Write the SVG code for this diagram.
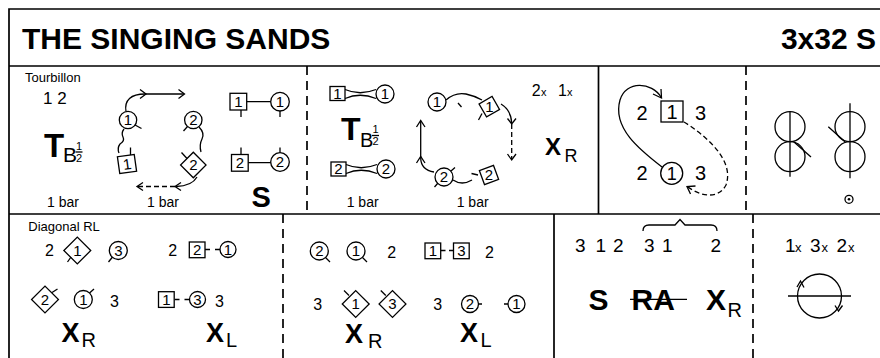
<svg xmlns="http://www.w3.org/2000/svg" width="880" height="358" viewBox="0 0 880 358">
<style>
text{font-family:"Liberation Sans",Arial,sans-serif;fill:#000}
.b{font-weight:bold}
.ln{stroke:#000;stroke-width:1.3;fill:none}
.dl{stroke:#000;stroke-width:1.3;fill:none;stroke-dasharray:5,3}
.sh{fill:#fff;stroke:#000;stroke-width:1.3}
.fr{stroke:#000;stroke-width:1.7;fill:none}
.fd{stroke:#000;stroke-width:1.7;fill:none;stroke-dasharray:9,6}
.n{font-size:15px;text-anchor:middle}
.d{font-size:16px}
.lb{font-size:13px}
</style>
<rect width="880" height="358" fill="#fff"/>
<g id="frame">
<path class="fr" d="M9,360 V9 H882 M9,66 H882 M9,214 H882"/>
<path class="fd" d="M307,66 V214 M746,66 V214 M283,214 V360 M753,214 V360"/>
<path class="fr" d="M598.5,66 V214 M554,214 V360"/>
</g>
<g id="title">
<text x="22" y="49" class="b" font-size="30">THE SINGING SANDS</text>
<text x="876" y="49" class="b" font-size="30" text-anchor="end">3x32 S</text>
</g>
<g id="connectors">
<path class="ln" d="M126,111.5 C124,100 131,94 145,94 L184,94"/>
<path class="ln" d="M140,89.5 L146,94 L140,98.5 M178.5,89.5 L184.5,94 L178.5,98.5"/>
<path class="ln" d="M124,129 Q121,133 123,137 Q125,141 120,144 Q117,148 119,153"/>
<path class="ln" d="M199,127 Q205,133 202,139 Q199,145 201,152"/>
<path class="ln" d="M197,177 Q192,186 176,186.5"/>
<path class="ln" d="M181,182.5 L175,186.5 L181,190.5"/>
<path class="dl" d="M175,186.5 H138"/>
<path class="ln" d="M143,182.5 L137,186.5 L143,190.5"/>
<path class="ln" d="M247,101.7 H271 M241,110 V117 M280,111 V117 M248,162.7 H271 M241,147.5 V154.5 M280,147.5 V152.5"/>
<path class="ln" d="M345,89.5 Q360,96 376,89.5 M345,98.5 Q360,92 376,98.5"/>
<path class="ln" d="M346,164.5 Q361,171 377,164.5 M346,173.5 Q361,167 377,173.5"/>
<path class="ln" d="M446,100 Q455,92 466,94 Q475,96 482,100"/>
<path class="ln" d="M453,180 Q462,186 472,180"/>
<path class="ln" d="M434,172 Q421,170 420.7,158 L420.7,121"/>
<path class="ln" d="M416.5,127 L420.7,120.5 L425,127 M416.5,163 L420.7,156.5 L425,163"/>
<path class="ln" d="M501,104 Q511,110 511.7,123"/>
<path class="ln" d="M507.5,118.5 L511.7,124 L516,118.5"/>
<path class="dl" d="M511.7,124 V159"/>
<path class="ln" d="M507.5,154 L511.7,160 L516,154"/>
<path class="ln" d="M662,167 C640,150 612,128 620,100 C626,80 652,82 661,97"/>
<path class="ln" d="M653,94 L661.5,98 L661,89"/>
<path class="dl" d="M684,122 C705,135 735,160 726,185 C718,200 700,196 688,187"/>
<path class="ln" d="M690.5,194 L687,186.5 L695.5,186"/>
<path class="ln" d="M643,231 Q643,225 649,225 L675,225 L680,219.5 L685,225 L711,225 Q717,225 717,231"/>
<path class="ln" stroke-width="1.6" d="M630,299.3 H687"/>
<path class="ln" d="M788,296 H851"/>
<path class="ln" d="M797,287 L800.5,281 L804,287.5 M835,305.5 L838.5,311 L842.5,305.5"/>
<path class="ln" d="M205,249.5 H210 M215,249.5 H220 M174.5,299.5 H179.5 M184.5,299.5 H189.5 M440.7,250.5 H445.5 M449,250.5 H453.5 M477.5,304 H482 M504,304 H508.5"/>
</g>
<g id="n_tourbillon">
<text x="25" y="81.5" class="lb">Tourbillon</text>
<text x="43" y="103.5" font-size="17">1 2</text>
<text x="44" y="156.7" class="b" font-size="33">T</text>
<text x="63" y="161.7" font-size="21">B</text>
<text x="79" y="149.5" font-size="11" text-anchor="middle">1</text>
<path class="ln" stroke-width="1" d="M75.5,152 H82.5"/>
<text x="79" y="161.5" font-size="11" text-anchor="middle">2</text>
<text x="47" y="206.7" font-size="14">1 bar</text>
<text x="147" y="206.7" font-size="14">1 bar</text>
<circle class="sh" cx="128" cy="120" r="8.7"/><text class="n" x="128" y="125.3">1</text>
<path class="ln" d="M135,125 L141.5,128.5"/>
<g transform="rotate(-8 127 164)"><rect class="sh" x="118.5" y="155.5" width="17" height="17"/><text class="n" x="127" y="169.5">1</text></g>
<path class="ln" d="M130.5,147.5 V155"/>
<circle class="sh" cx="193.3" cy="120" r="8.7"/><text class="n" x="193.3" y="125.3">2</text>
<path class="ln" d="M187.5,126.5 L183.5,131"/>
<g transform="rotate(45 193.3 165)"><rect class="sh" x="184.3" y="156" width="18" height="18"/></g><text class="n" x="193.3" y="170.3">2</text>
<path class="ln" d="M187,158.5 L181.5,152.5"/>
</g>
<g id="n_set">
<rect class="sh" x="230" y="93.3" width="16.7" height="16.7"/><text class="n" x="238.3" y="107">1</text>
<circle class="sh" cx="280" cy="101.7" r="9.3"/><text class="n" x="280" y="107">1</text>
<rect class="sh" x="231.5" y="154.5" width="16.7" height="16.7"/><text class="n" x="239.8" y="168.2">2</text>
<circle class="sh" cx="280" cy="162" r="9.3"/><text class="n" x="280" y="167.3">2</text>
<text x="251.5" y="206.7" class="b" font-size="29">S</text>
</g>
<g id="n_turn">
<rect class="sh" x="330" y="86.5" width="15" height="14"/><text class="n" x="337.5" y="98.8">1</text>
<circle class="sh" cx="385" cy="94" r="9"/><text class="n" x="385" y="99.3">1</text>
<rect class="sh" x="331" y="162" width="15" height="14"/><text class="n" x="338.5" y="174.3">2</text>
<circle class="sh" cx="386" cy="169" r="9"/><text class="n" x="386" y="174.3">2</text>
<text x="341" y="140" class="b" font-size="32">T</text>
<text x="360" y="146.7" font-size="20">B</text>
<text x="375.5" y="133" font-size="11" text-anchor="middle">1</text>
<path class="ln" stroke-width="1" d="M372,135.5 H379"/>
<text x="375.5" y="145" font-size="11" text-anchor="middle">2</text>
<text x="346.7" y="206.7" font-size="14">1 bar</text>
<text x="456.7" y="206.7" font-size="14">1 bar</text>
<circle class="sh" cx="437" cy="102" r="9"/><text class="n" x="437" y="107.3">1</text>
<path class="ln" d="M458,103 L461.5,107"/>
<g transform="rotate(-30 489.3 106.7)"><rect class="sh" x="481.8" y="99.2" width="15" height="15"/></g><text class="n" x="489.3" y="112">1</text>
<path class="ln" d="M482,113.5 L478.5,120"/>
<circle class="sh" cx="444" cy="177" r="9"/><text class="n" x="444" y="182.3">2</text>
<path class="ln" d="M451,171 L455,167.5 M438,183 L434.5,187"/>
<g transform="rotate(-20 489 175)"><rect class="sh" x="481.5" y="167.5" width="15" height="15"/></g><text class="n" x="489" y="180.3">2</text>
<path class="ln" d="M471.5,173.5 L478,175"/>
<text x="531.7" y="96" font-size="16">2</text><text x="541" y="96" font-size="11">x</text>
<text x="558" y="96" font-size="16">1</text><text x="567" y="96" font-size="11">x</text>
<text x="545" y="155" class="b" font-size="24">X</text>
<text x="564.5" y="161.7" font-size="18">R</text>
</g>
<g id="n_cast">
<text x="636.5" y="120" font-size="20">2</text>
<rect class="sh" x="661" y="101" width="22" height="21"/><text x="672" y="119" font-size="20" text-anchor="middle">1</text>
<text x="695" y="120" font-size="20">3</text>
<text x="636.5" y="180" font-size="20">2</text>
<circle class="sh" cx="671.7" cy="173.3" r="11"/><text x="671.7" y="180" font-size="18" text-anchor="middle">1</text>
<text x="695" y="180" font-size="20">3</text>
</g>
<g id="n_reels">
<circle class="ln" cx="790" cy="126.7" r="15"/><circle class="ln" cx="790" cy="156.7" r="15"/>
<path class="ln" d="M790,111.7 V176.7 M794,142 L811,157"/>
<circle class="ln" cx="850" cy="126.7" r="15"/><circle class="ln" cx="850" cy="156.7" r="15"/>
<path class="ln" d="M850,103.3 V178.3 M828.3,126.7 L845,141.7"/>
<circle class="ln" cx="849" cy="199.3" r="4"/><circle cx="849" cy="199.3" r="1.3"/>
</g>
<g id="n_diag1">
<text x="28.3" y="230.7" class="lb">Diagonal RL</text>
<text x="45" y="256" class="d">2</text>
<g transform="rotate(45 77.3 250.5)"><rect class="sh" x="67.8" y="241" width="19" height="19"/></g><text class="n" x="77.3" y="255.8">1</text>
<path class="ln" d="M71,257 L67.5,262"/>
<circle class="sh" cx="118.3" cy="250.5" r="9"/><text class="n" x="118.3" y="255.8">3</text>
<path class="ln" d="M112.5,257 L108.5,262"/>
<g transform="rotate(45 45 299.5)"><rect class="sh" x="35.5" y="290" width="19" height="19"/></g><text class="n" x="45" y="304.8">2</text>
<path class="ln" d="M52,292.5 L57.5,289"/>
<circle class="sh" cx="83.3" cy="299.5" r="9"/><text class="n" x="83.3" y="304.8">1</text>
<path class="ln" d="M89.5,293 L94,289"/>
<text x="110" y="306.5" class="d">3</text>
<text x="61.5" y="341.7" class="b" font-size="27">X</text>
<text x="81.5" y="346.7" font-size="20">R</text>
</g>
<g id="n_diag2">
<text x="168.3" y="256" class="d">2</text>
<rect class="sh" x="189.3" y="242" width="15.7" height="15.7"/><text class="n" x="197.2" y="255.3">2</text>
<circle class="sh" cx="228" cy="249.5" r="8"/><text class="n" x="228" y="254.8">1</text>
<rect class="sh" x="158.5" y="291.7" width="15.7" height="15.7"/><text class="n" x="166.3" y="305">1</text>
<circle class="sh" cx="197.5" cy="299.5" r="8"/><text class="n" x="197.5" y="304.8">3</text>
<text x="215" y="306.5" class="d">3</text>
<text x="206" y="341.7" class="b" font-size="27">X</text>
<text x="226" y="346.7" font-size="20">L</text>
</g>
<g id="n_diag3">
<circle class="sh" cx="319.3" cy="251" r="9"/><text class="n" x="319.3" y="256.3">2</text>
<path class="ln" d="M325.5,257.5 L330,262"/>
<circle class="sh" cx="356" cy="251" r="9"/><text class="n" x="356" y="256.3">1</text>
<path class="ln" d="M362.5,257.5 L367,262"/>
<text x="387.3" y="258" class="d">2</text>
<text x="313.3" y="309.5" class="d">3</text>
<g transform="rotate(45 355.7 304)"><rect class="sh" x="346.2" y="294.5" width="19" height="19"/></g><text class="n" x="355.7" y="309.3">1</text>
<path class="ln" d="M349,295.5 L344,290.5"/>
<g transform="rotate(45 392.5 304)"><rect class="sh" x="383" y="294.5" width="19" height="19"/></g><text class="n" x="392.5" y="309.3">3</text>
<path class="ln" d="M385.8,295.5 L380.8,290.5"/>
<text x="345" y="343.3" class="b" font-size="27">X</text>
<text x="368" y="348.3" font-size="20">R</text>
</g>
<g id="n_diag4">
<rect class="sh" x="425" y="243" width="15.7" height="15.7"/><text class="n" x="432.8" y="256.3">1</text>
<rect class="sh" x="453.5" y="243" width="15.7" height="15.7"/><text class="n" x="461.3" y="256.3">3</text>
<text x="485" y="258" class="d">2</text>
<text x="433.3" y="310" class="d">3</text>
<circle class="sh" cx="470" cy="304" r="8.5"/><text class="n" x="470" y="309.3">2</text>
<circle class="sh" cx="516.5" cy="304" r="8.5"/><text class="n" x="516.5" y="309.3">1</text>
<text x="460" y="341.7" class="b" font-size="27">X</text>
<text x="480.5" y="346.7" font-size="20">L</text>
</g>
<g id="n_srax">
<text x="575" y="251.7" font-size="19">3</text><text x="595.5" y="251.7" font-size="19">1</text><text x="613" y="251.7" font-size="19">2</text>
<text x="644" y="251.7" font-size="19">3</text><text x="662" y="251.7" font-size="19">1</text><text x="710.5" y="251.7" font-size="19">2</text>
<text x="588.5" y="310" class="b" font-size="30">S</text>
<text x="631.5" y="310" class="b" font-size="30">RA</text>
<text x="706" y="310" class="b" font-size="30">X</text>
<text x="727.5" y="316.7" font-size="20">R</text>
</g>
<g id="n_circle">
<text x="785" y="251.7" font-size="19">1</text><text x="795" y="251.7" font-size="13">x</text>
<text x="810" y="251.7" font-size="19">3</text><text x="821.5" y="251.7" font-size="13">x</text>
<text x="836.5" y="251.7" font-size="19">2</text><text x="848" y="251.7" font-size="13">x</text>
<circle class="ln" cx="819.5" cy="296" r="22"/>
</g>
</svg>
